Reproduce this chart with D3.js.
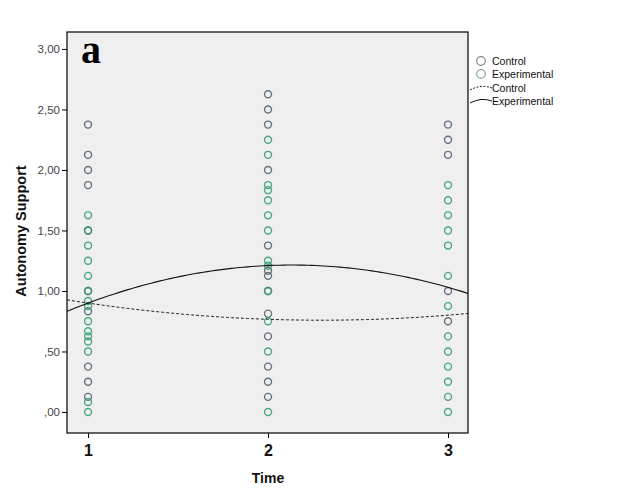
<!DOCTYPE html>
<html><head><meta charset="utf-8">
<script src="https://cdn.jsdelivr.net/npm/d3@7"></script>
<style>body{margin:0;background:#fff;} svg{display:block;font-family:"Liberation Sans",Arial,sans-serif;}</style>
</head><body><svg id="c" width="626" height="501"></svg>
<script>
// ---- data ----
const times = [1, 2, 3];
const yTicks = [0, 0.5, 1, 1.5, 2, 2.5, 3];
const yTickLabels = [",00", ",50", "1,00", "1,50", "2,00", "2,50", "3,00"];
const xTickLabels = ["1", "2", "3"];
const groups = ["Control", "Experimental"];
// observed values per time point
const control1 = [2.375, 2.125, 2.0, 1.875, 1.5, 1.0, 0.833, 0.375, 0.25, 0.125];
const experimental1 = [1.625, 1.5, 1.375, 1.25, 1.125, 1.0, 0.917, 0.875, 0.75, 0.667, 0.625, 0.583, 0.5, 0.083, 0.0];
const control2 = [2.625, 2.5, 2.375, 2.0, 1.375, 1.167, 1.125, 1.0, 0.8125, 0.625, 0.375, 0.25, 0.125];
const experimental2 = [2.25, 2.125, 1.875, 1.833, 1.75, 1.625, 1.5, 1.25, 1.208, 1.0, 0.75, 0.5, 0.0];
const control3 = [2.375, 2.25, 2.125, 1.0, 0.75];
const experimental3 = [1.875, 1.75, 1.625, 1.5, 1.375, 1.125, 0.875, 0.625, 0.5, 0.375, 0.25, 0.125, 0.0];
// quadratic fit values at time 1, 2, 3
const fitControl = [0.90, 0.766, 0.80];
const fitExperimental = [0.90, 1.21, 1.03];

// ---- layout ----
const svg = d3.select("#c");
const L = 67, R = 468, T = 32, B = 433;
const x = d3.scaleLinear().domain([0.883, 3.111]).range([L, R]);
const y = d3.scaleLinear().domain([-0.1736, 3.14]).range([B, T]);
const colC = "#4b5a6c", colE = "#2f9a6c";

svg.append("rect").attr("x", L).attr("y", T).attr("width", R - L).attr("height", B - T)
  .attr("fill", "#efefef");

// axes
const yAxis = d3.axisLeft(y).tickValues(yTicks).tickSize(5).tickPadding(2)
  .tickFormat((d, i) => yTickLabels[i]);
const gy = svg.append("g").attr("transform", `translate(${L},0)`).call(yAxis);
gy.select(".domain").remove();
gy.selectAll("line").attr("stroke", "#000");
gy.selectAll("text").attr("font-size", 11.5).attr("fill", "#444")
  .attr("font-family", "Liberation Sans, Arial, sans-serif");

const xAxis = d3.axisBottom(x).tickValues(times).tickSize(5).tickPadding(7)
  .tickFormat((d, i) => xTickLabels[i]);
const gx = svg.append("g").attr("transform", `translate(0,${B})`).call(xAxis);
gx.select(".domain").remove();
gx.selectAll("line").attr("stroke", "#000");
gx.selectAll("text").attr("font-size", 16).attr("font-weight", "bold").attr("fill", "#111")
  .attr("font-family", "Liberation Sans, Arial, sans-serif");

// points
const pts = [];
[[control1, experimental1], [control2, experimental2], [control3, experimental3]].forEach((pair, i) => {
  pair[0].forEach(v => pts.push({t: times[i], v, g: 0}));
  pair[1].forEach(v => pts.push({t: times[i], v, g: 1}));
});
svg.append("g").selectAll("circle").data(pts).join("circle")
  .attr("cx", d => x(d.t)).attr("cy", d => y(d.v)).attr("r", 3.5)
  .attr("fill", "none").attr("stroke-width", 1.4)
  .attr("stroke", d => d.g === 0 ? colC : colE).attr("stroke-opacity", 0.85);

// quadratic fit curves
function quad(vals) {
  const [a, b, c] = vals;
  return t => a * (t - 2) * (t - 3) / 2 - b * (t - 1) * (t - 3) + c * (t - 1) * (t - 2) / 2;
}
const ts = d3.range(x.domain()[0], x.domain()[1] + 1e-9, (x.domain()[1] - x.domain()[0]) / 100);
const line = d3.line().x(d => x(d[0])).y(d => y(d[1]));
const fc = quad(fitControl), fe = quad(fitExperimental);
svg.append("path").attr("d", line(ts.map(t => [t, fc(t)]))).attr("fill", "none")
  .attr("stroke", "#222").attr("stroke-width", 1).attr("stroke-dasharray", "3,2");
svg.append("path").attr("d", line(ts.map(t => [t, fe(t)]))).attr("fill", "none")
  .attr("stroke", "#111").attr("stroke-width", 1.1);

// frame
svg.append("rect").attr("x", L).attr("y", T).attr("width", R - L).attr("height", B - T)
  .attr("fill", "none").attr("stroke", "#000").attr("stroke-width", 1.2);

// panel label
svg.append("text").attr("x", 81).attr("y", 63).text("a")
  .attr("font-family", "Liberation Serif, Times New Roman, serif").attr("font-weight", "bold")
  .attr("font-size", 40).attr("fill", "#000");

// axis titles
svg.append("text").attr("transform", "translate(26,231) rotate(-90)").attr("text-anchor", "middle")
  .attr("font-size", 14.5).attr("font-weight", "bold").attr("fill", "#111").text("Autonomy Support");
svg.append("text").attr("x", 268).attr("y", 483).attr("text-anchor", "middle")
  .attr("font-size", 14).attr("font-weight", "bold").attr("fill", "#111").text("Time");

// legend
const lg = svg.append("g");
const legMarkerCol = ["#7d8791", "#8aa898"];
groups.forEach((g, i) => {
  const yy = 61 + i * 13;
  lg.append("circle").attr("cx", 481).attr("cy", yy).attr("r", 4.3).attr("fill", "none")
    .attr("stroke", legMarkerCol[i]).attr("stroke-width", 1.2);
  lg.append("text").attr("x", 492).attr("y", yy + 3.5).attr("font-size", 10.5).attr("fill", "#111").text(g);
});
groups.forEach((g, i) => {
  const yy = 88 + i * 13;
  lg.append("path").attr("d", `M470,${yy + 2} Q481,${yy - 4} 492,${yy}`).attr("fill", "none")
    .attr("stroke", "#111").attr("stroke-width", 1)
    .attr("stroke-dasharray", i === 0 ? "2,1.5" : null);
  lg.append("text").attr("x", 492).attr("y", yy + 3.5).attr("font-size", 10.5).attr("fill", "#111").text(g);
});
</script></body></html>
